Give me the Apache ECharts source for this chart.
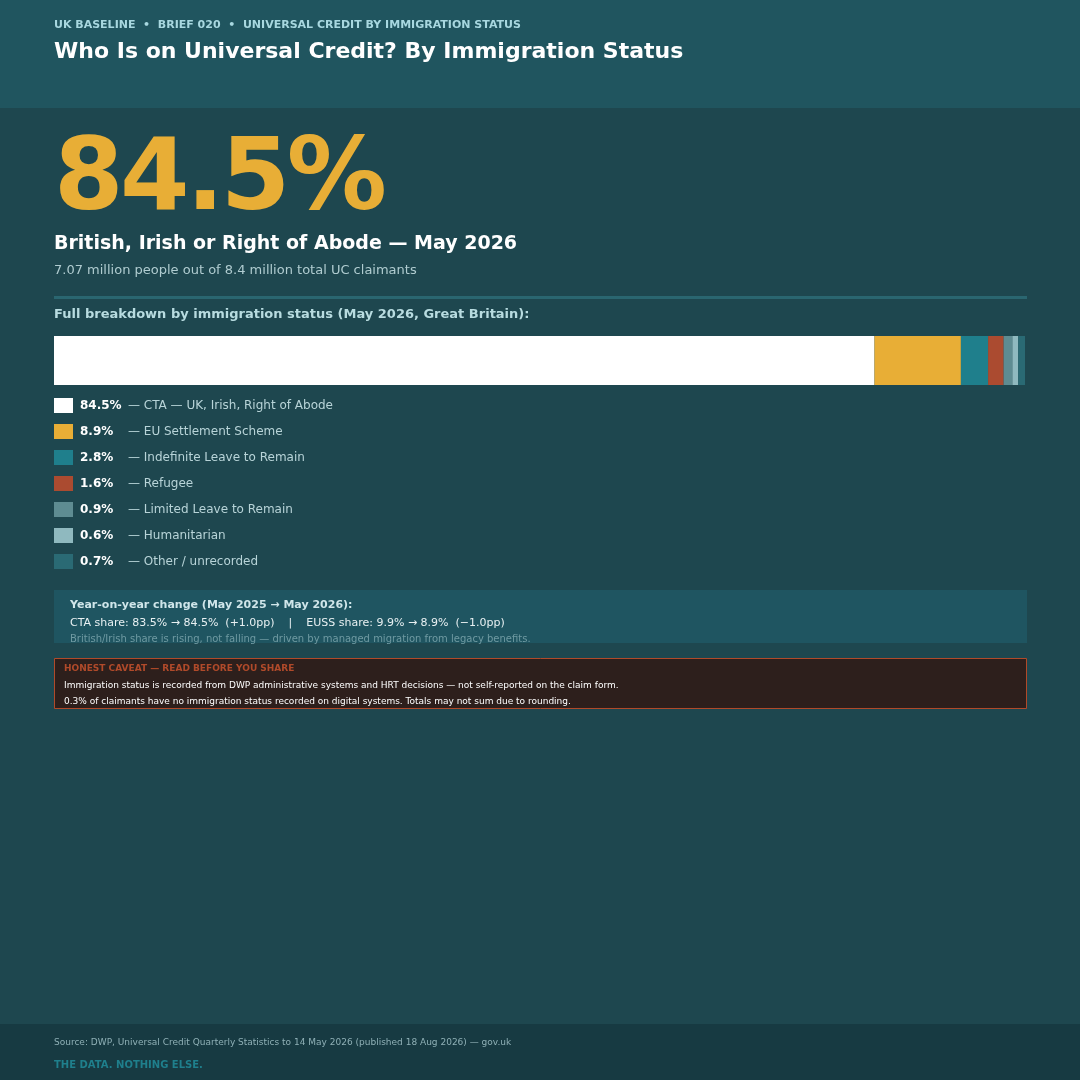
<!DOCTYPE html>
<html>
<head>
<meta charset="utf-8">
<title>Who Is on Universal Credit? By Immigration Status</title>
<script src="https://cdn.jsdelivr.net/npm/echarts@6/dist/echarts.min.js"></script>
<style>
    html, body { margin: 0; padding: 0; background: #1e474f; }
    #chart { width: 1080px; height: 1080px; }
</style>
</head>
<body>
<div id="chart"></div>
<script>
(function () {
    'use strict';

    // shares of UC claimants, May 2026, Great Britain
    var statuses = ['CTA — UK, Irish, Right of Abode', 'EU Settlement Scheme', 'Indefinite Leave to Remain',
                    'Refugee', 'Limited Leave to Remain', 'Humanitarian', 'Other / unrecorded'];
    var shares = [84.5, 8.9, 2.8, 1.6, 0.9, 0.6, 0.7];
    var colors = ['#ffffff', '#e8ae36', '#1f7f8c', '#ab4b30', '#5e8c92', '#8fb9bf', '#2a6a74'];

    var headline = '84.5%';
    var yoyLine = 'CTA share: 83.5% \u2192 84.5%  (+1.0pp)    |    EUSS share: 9.9% \u2192 8.9%  (\u22121.0pp)';

    var SANS = '"DejaVu Sans", sans-serif';

    function txt(text, x, y, font, fill) {
        return {
            type: 'text', silent: true,
            style: { text: text, x: x, y: y, font: font, fill: fill,
                     textVerticalAlign: 'middle', verticalAlign: 'middle' }
        };
    }

    function rect(x, y, w, h, fill, stroke) {
        return {
            type: 'rect', silent: true, z: -1,
            shape: { x: x, y: y, width: w, height: h },
            style: { fill: fill, stroke: stroke || null, lineWidth: stroke ? 1 : 0 }
        };
    }

    // big headline drawn char by char so it can be tracked tighter
    function trackedText(text, x, y, font, fill, spacing) {
        var ctx = document.createElement('canvas').getContext('2d');
        ctx.font = font;
        var out = [];
        var cx = x;
        text.split('').forEach(function (ch) {
            out.push(txt(ch, cx, y, font, fill));
            cx += ctx.measureText(ch).width + spacing;
        });
        return out;
    }

    var series = statuses.map(function (name, i) {
        return {
            name: name, type: 'bar', stack: 'all',
            data: [shares[i]], barWidth: 49,
            itemStyle: { color: colors[i] },
            silent: true
        };
    });

    var graphics = [
        rect(0, 0, 1080, 108, '#20555f'),
        rect(0, 1024, 1080, 56, '#173a42'),
        rect(54, 296, 973, 3, '#2a6670'),
        rect(54, 590, 973, 53, '#1f5561'),
        rect(54.5, 658.5, 972, 50, '#2d1f1c', '#b04a2a'),

        txt('UK BASELINE  \u2022  BRIEF 020  \u2022  UNIVERSAL CREDIT BY IMMIGRATION STATUS', 54, 25, 'bold 11px ' + SANS, '#a8d8e0'),
        txt('Who Is on Universal Credit? By Immigration Status', 54, 52, 'bold 22px ' + SANS, '#ffffff'),

        txt('British, Irish or Right of Abode \u2014 May 2026', 54, 244, 'bold 19px ' + SANS, '#ffffff'),
        txt('7.07 million people out of 8.4 million total UC claimants', 54, 271, '13px ' + SANS, '#b0ccd0'),
        txt('Full breakdown by immigration status (May 2026, Great Britain):', 54, 315, 'bold 13px ' + SANS, '#b8dce0'),

        txt('Year-on-year change (May 2025 \u2192 May 2026):', 70, 605, 'bold 11px ' + SANS, '#d0e6ea'),
        txt(yoyLine, 70, 623, '11px ' + SANS, '#e8f0f2'),
        txt('British/Irish share is rising, not falling \u2014 driven by managed migration from legacy benefits.', 70, 639, '10px ' + SANS, '#6f9aa2'),

        txt('HONEST CAVEAT \u2014 READ BEFORE YOU SHARE', 64, 669, 'bold 9px ' + SANS, '#b04a2a'),
        txt('Immigration status is recorded from DWP administrative systems and HRT decisions \u2014 not self-reported on the claim form.', 64, 686, '9px ' + SANS, '#ffffff'),
        txt('0.3% of claimants have no immigration status recorded on digital systems. Totals may not sum due to rounding.', 64, 702, '9px ' + SANS, '#ffffff'),

        txt('Source: DWP, Universal Credit Quarterly Statistics to 14 May 2026 (published 18 Aug 2026) \u2014 gov.uk', 54, 1043, '9px ' + SANS, '#8fb0b6'),
        txt('THE DATA. NOTHING ELSE.', 54, 1065, 'bold 10px ' + SANS, '#1f7f8c')
    ].concat(trackedText(headline, 54, 183, 'bold 100px ' + SANS, '#e8ae36', -3.5));

    var chart = echarts.init(document.getElementById('chart'), null, { renderer: 'canvas' });
    chart.setOption({
        backgroundColor: '#1e474f',
        animation: false,
        grid: { left: 54, top: 336, width: 971, height: 49 },
        xAxis: { type: 'value', min: 0, max: 100, show: false },
        yAxis: { type: 'category', data: ['May 2026'], show: false },
        legend: {
            orient: 'vertical', left: 54, top: 398, padding: 0,
            itemWidth: 19, itemHeight: 15, itemGap: 11,
            icon: 'rect', selectedMode: false,
            data: statuses,
            formatter: function (name) {
                var i = statuses.indexOf(name);
                return '{p|' + shares[i].toFixed(1) + '%}{d|\u2014 ' + name + '}';
            },
            textStyle: {
                padding: [0, 0, 0, 2],
                rich: {
                    p: { fontFamily: SANS, fontWeight: 'bold', fontSize: 12, color: '#ffffff', width: 48, lineHeight: 15 },
                    d: { fontFamily: SANS, fontSize: 12, color: '#b8d4d8', lineHeight: 15 }
                }
            }
        },
        graphic: graphics,
        series: series
    });

    window.addEventListener('resize', function () { chart.resize(); });
})();
</script>
</body>
</html>
